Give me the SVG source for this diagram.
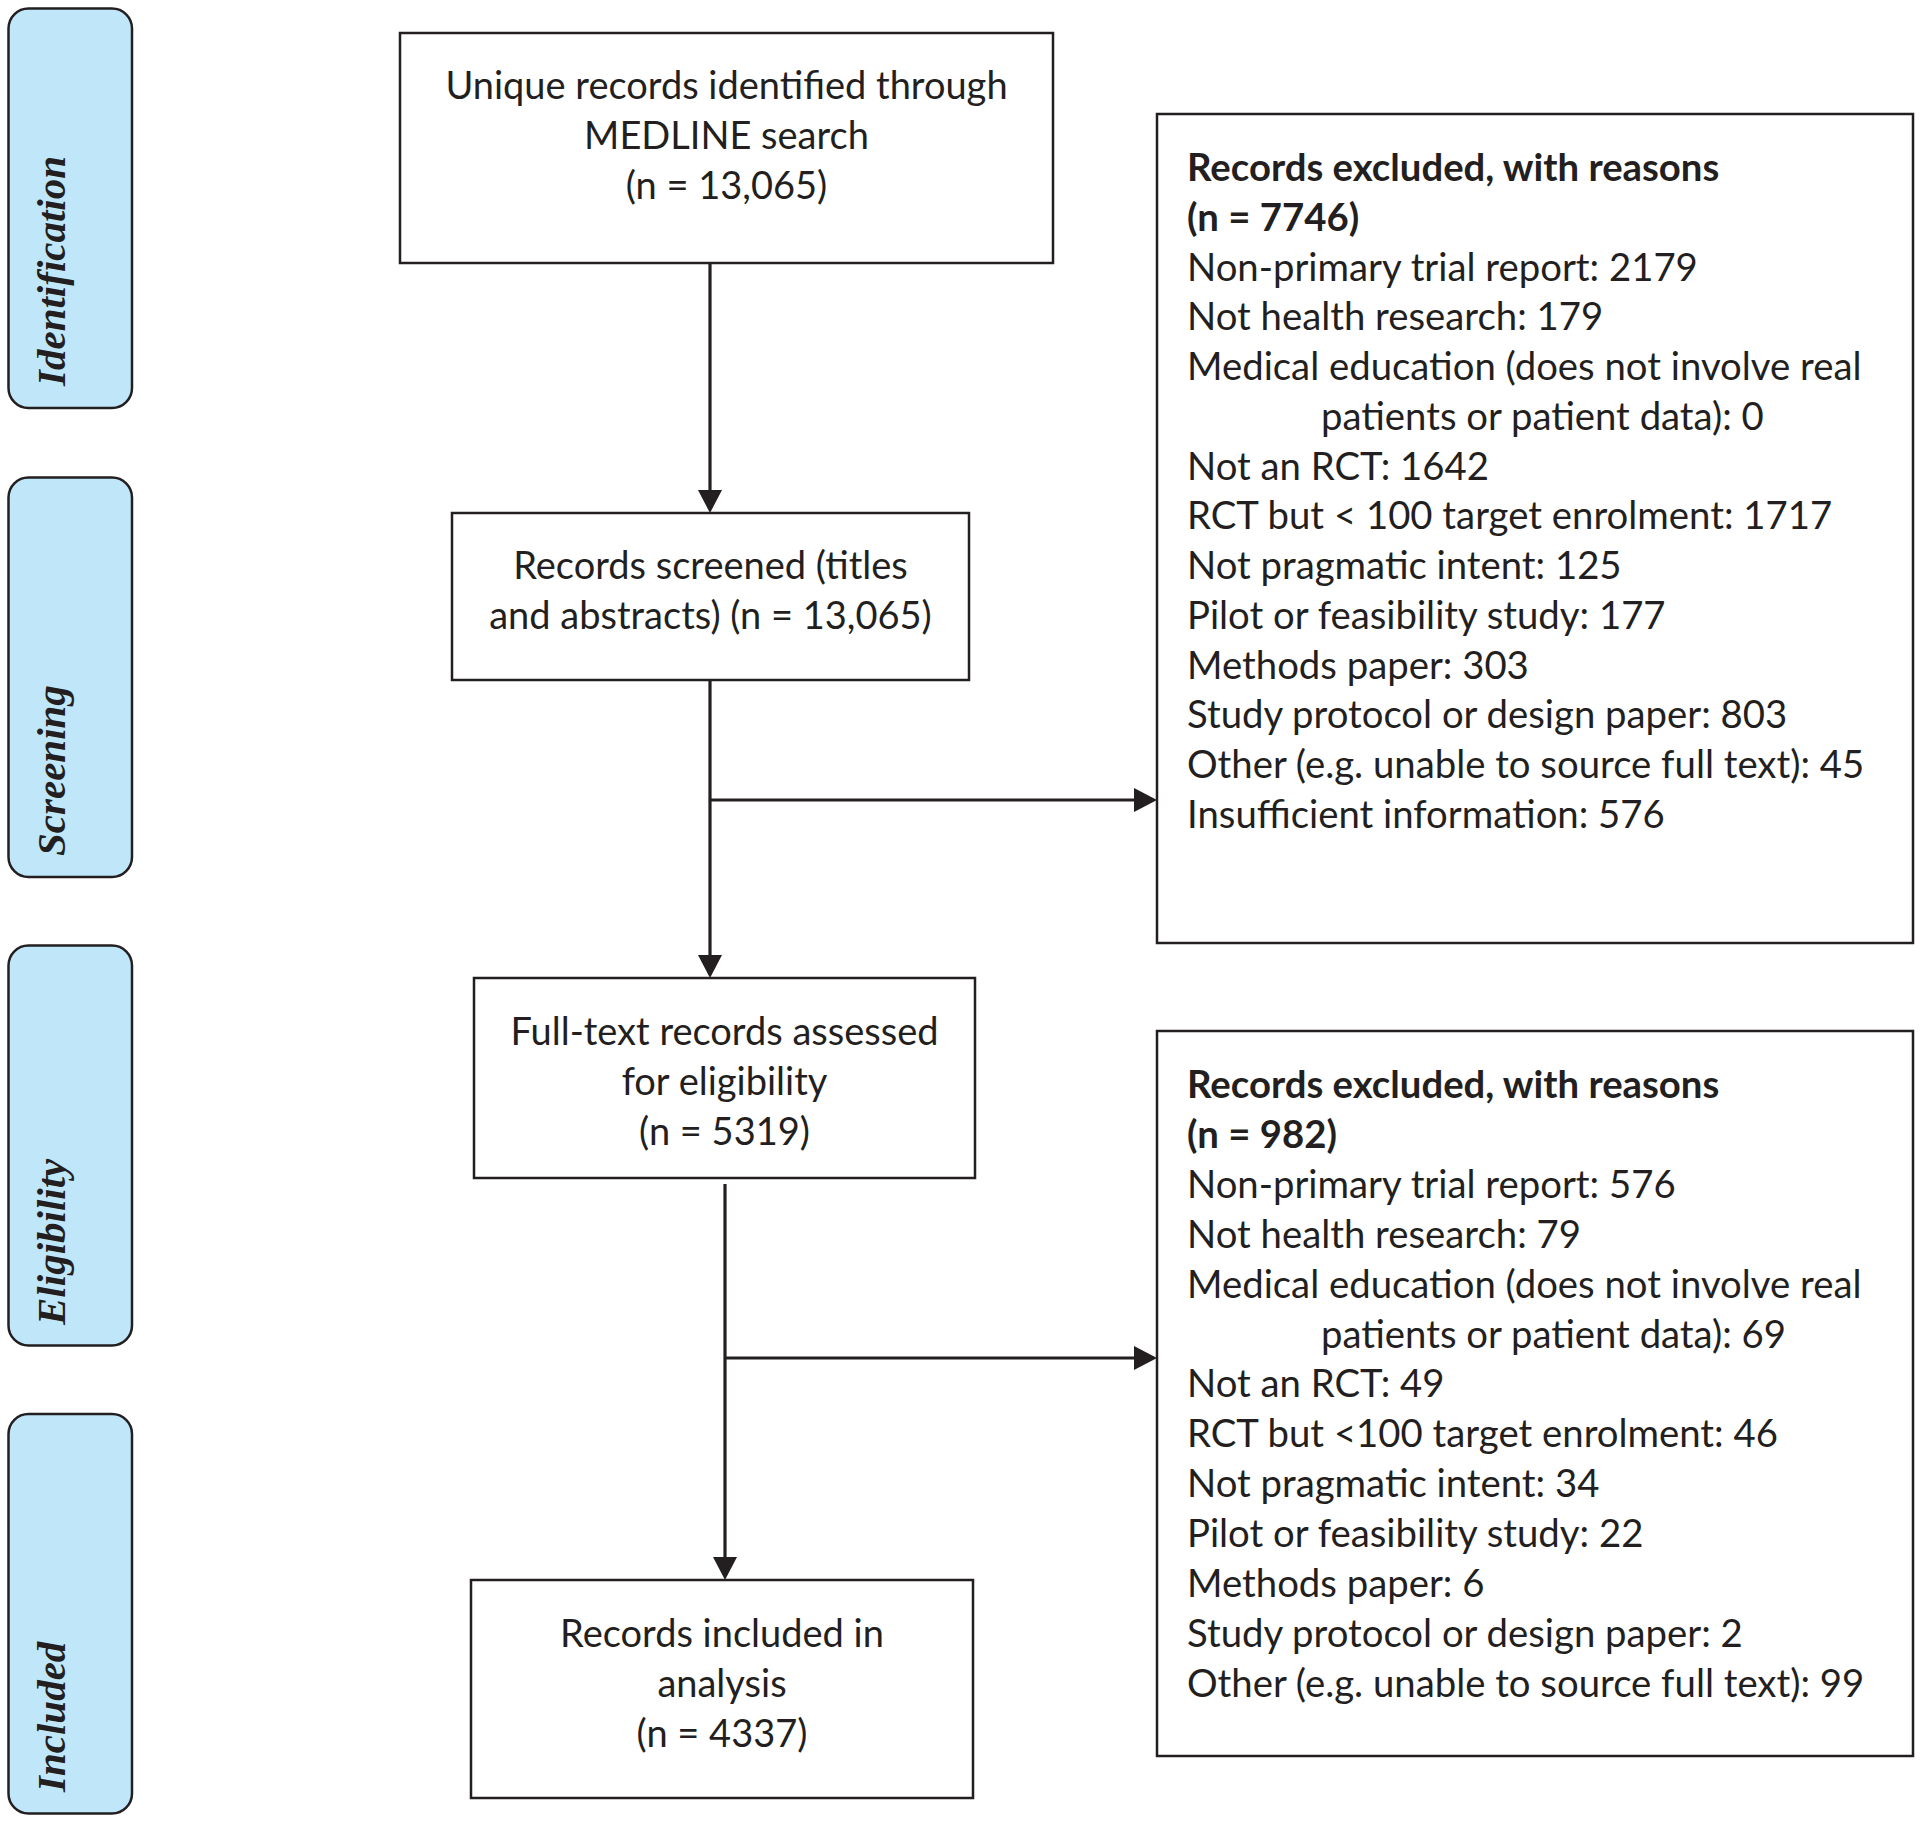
<svg xmlns="http://www.w3.org/2000/svg" width="1920" height="1822" viewBox="0 0 1920 1822">
<style>
.bg{fill:#ffffff}
.box{fill:#ffffff;stroke:#231f20;stroke-width:2.5}
.phase{fill:#bfe7f9;stroke:#231f20;stroke-width:2.5}
.plabel{font-family:"Liberation Serif","Times New Roman",serif;font-weight:bold;font-style:italic;font-size:41px;fill:#231f20}
.mt{font-family:Lato,"Open Sans",sans-serif;font-size:38px;fill:#231f20;text-anchor:middle}
.rt{font-family:Lato,"Open Sans",sans-serif;font-size:38.3px;fill:#231f20}
.b{font-weight:bold}
.conn{stroke:#231f20;stroke-width:3.2;fill:none}
</style>
<defs>
<marker id="ah" markerUnits="userSpaceOnUse" markerWidth="23" markerHeight="25" refX="0" refY="12" orient="auto" viewBox="0 0 23 24">
<path d="M0,0 L23,12 L0,24 z" fill="#231f20"/>
</marker>
</defs>
<rect class="bg" x="0" y="0" width="1920" height="1822"/>

<g id="phase-identification">
<rect class="phase" x="8.5" y="8.5" width="123.5" height="399.5" rx="20"/>
<text class="plabel" transform="translate(65,386) rotate(-90)">Identification</text>
</g>
<g id="phase-screening">
<rect class="phase" x="8.5" y="477.5" width="123.5" height="399.5" rx="20"/>
<text class="plabel" transform="translate(65,856) rotate(-90)">Screening</text>
</g>
<g id="phase-eligibility">
<rect class="phase" x="8.5" y="945.5" width="123.5" height="400" rx="20"/>
<text class="plabel" transform="translate(65,1325) rotate(-90)">Eligibility</text>
</g>
<g id="phase-included">
<rect class="phase" x="8.5" y="1414" width="123.5" height="399.5" rx="20"/>
<text class="plabel" transform="translate(65,1792) rotate(-90)">Included</text>
</g>

<g id="node-identified">
<rect class="box" x="400" y="33" width="653" height="230"/>
<text class="mt" x="726.5" y="99">Unique records identified through</text>
<text class="mt" x="726.5" y="149">MEDLINE search</text>
<text class="mt" x="726.5" y="199">(n = 13,065)</text>
</g>

<g id="node-screened">
<rect class="box" x="452" y="513" width="517" height="167"/>
<text class="mt" x="710.5" y="579">Records screened (titles</text>
<text class="mt" x="710.5" y="629">and abstracts) (n = 13,065)</text>
</g>

<g id="node-fulltext">
<rect class="box" x="474" y="978" width="501" height="200"/>
<text class="mt" x="724.5" y="1045">Full-text records assessed</text>
<text class="mt" x="724.5" y="1095">for eligibility</text>
<text class="mt" x="724.5" y="1145">(n = 5319)</text>
</g>

<g id="node-included">
<rect class="box" x="471" y="1580" width="502" height="218"/>
<text class="mt" x="722" y="1647">Records included in</text>
<text class="mt" x="722" y="1697">analysis</text>
<text class="mt" x="722" y="1747">(n = 4337)</text>
</g>

<g id="node-excluded-1">
<rect class="box" x="1157" y="114" width="756" height="829"/>
<text class="rt" x="1187" y="181">
<tspan class="b" x="1187">Records excluded, with reasons</tspan>
<tspan class="b" x="1187" dy="49.75">(n = 7746)</tspan>
<tspan x="1187" dy="49.75">Non-primary trial report: 2179</tspan>
<tspan x="1187" dy="49.75">Not health research: 179</tspan>
<tspan x="1187" dy="49.75">Medical education (does not involve real</tspan>
<tspan x="1321" dy="49.75">patients or patient data): 0</tspan>
<tspan x="1187" dy="49.75">Not an RCT: 1642</tspan>
<tspan x="1187" dy="49.75">RCT but &lt; 100 target enrolment: 1717</tspan>
<tspan x="1187" dy="49.75">Not pragmatic intent: 125</tspan>
<tspan x="1187" dy="49.75">Pilot or feasibility study: 177</tspan>
<tspan x="1187" dy="49.75">Methods paper: 303</tspan>
<tspan x="1187" dy="49.75">Study protocol or design paper: 803</tspan>
<tspan x="1187" dy="49.75">Other (e.g. unable to source full text): 45</tspan>
<tspan x="1187" dy="49.75">Insufficient information: 576</tspan>
</text>
</g>

<g id="node-excluded-2">
<rect class="box" x="1157" y="1031" width="756" height="725"/>
<text class="rt" x="1187" y="1098">
<tspan class="b" x="1187">Records excluded, with reasons</tspan>
<tspan class="b" x="1187" dy="49.9">(n = 982)</tspan>
<tspan x="1187" dy="49.9">Non-primary trial report: 576</tspan>
<tspan x="1187" dy="49.9">Not health research: 79</tspan>
<tspan x="1187" dy="49.9">Medical education (does not involve real</tspan>
<tspan x="1321" dy="49.9">patients or patient data): 69</tspan>
<tspan x="1187" dy="49.9">Not an RCT: 49</tspan>
<tspan x="1187" dy="49.9">RCT but &lt;100 target enrolment: 46</tspan>
<tspan x="1187" dy="49.9">Not pragmatic intent: 34</tspan>
<tspan x="1187" dy="49.9">Pilot or feasibility study: 22</tspan>
<tspan x="1187" dy="49.9">Methods paper: 6</tspan>
<tspan x="1187" dy="49.9">Study protocol or design paper: 2</tspan>
<tspan x="1187" dy="49.9">Other (e.g. unable to source full text): 99</tspan>
</text>
</g>

<g id="connectors">
<line class="conn" x1="710" y1="263" x2="710" y2="490" marker-end="url(#ah)"/>
<line class="conn" x1="710" y1="680" x2="710" y2="955" marker-end="url(#ah)"/>
<line class="conn" x1="710" y1="800" x2="1134" y2="800" marker-end="url(#ah)"/>
<line class="conn" x1="725" y1="1184" x2="725" y2="1557" marker-end="url(#ah)"/>
<line class="conn" x1="725" y1="1358" x2="1134" y2="1358" marker-end="url(#ah)"/>
</g>
</svg>
